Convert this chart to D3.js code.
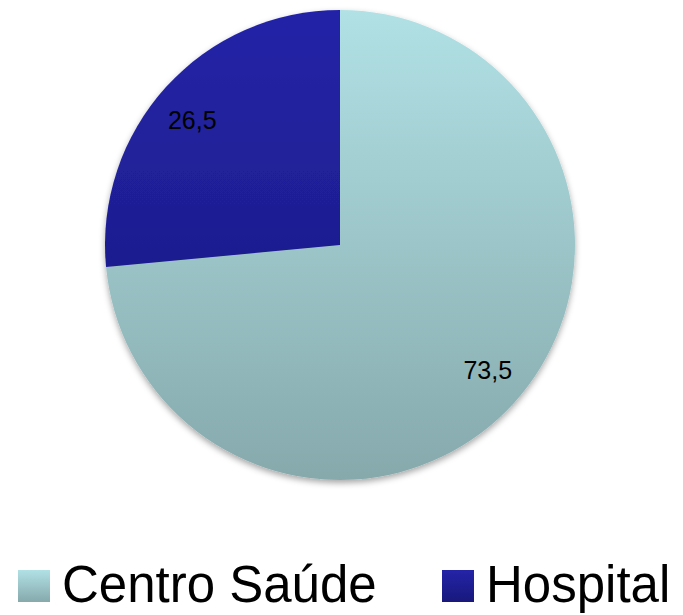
<!DOCTYPE html>
<html><head><meta charset="utf-8">
<script src="https://cdn.jsdelivr.net/npm/d3@7"></script>
<style>body{margin:0;background:#fff}svg{display:block}</style>
</head><body>
<script>
const categories = ["Centro Saúde", "Hospital"];
const values = [73.5, 26.5];
const labels = ["73,5", "26,5"];

const W = 683, H = 615;
const cx = 340, cy = 245, R = 235;
const svg = d3.select("body").append("svg").attr("width", W).attr("height", H);
const defs = svg.append("defs");
const grads = [["#b1e1e5", "#86a9ac"], ["#2424a8", "#18187c"]];
grads.forEach((g, i) => {
  const lg = defs.append("linearGradient").attr("id", "g" + i)
    .attr("gradientUnits", "userSpaceOnUse").attr("x1", 0).attr("y1", -R).attr("x2", 0).attr("y2", R);
  lg.append("stop").attr("offset", 0).attr("stop-color", g[0]);
  lg.append("stop").attr("offset", 1).attr("stop-color", g[1]);
  const lg2 = defs.append("linearGradient").attr("id", "l" + i).attr("x1", 0).attr("y1", 0).attr("x2", 0).attr("y2", 1);
  lg2.append("stop").attr("offset", 0).attr("stop-color", g[0]);
  lg2.append("stop").attr("offset", 1).attr("stop-color", g[1]);
});
const f = defs.append("filter").attr("id", "sh").attr("x", "-10%").attr("y", "-10%").attr("width", "120%").attr("height", "125%");
f.append("feDropShadow").attr("dx", 0).attr("dy", 3).attr("stdDeviation", 3).attr("flood-color", "#000").attr("flood-opacity", 0.35);

const pie = d3.pie().sort(null).value(d => d)(values);
const arc = d3.arc().innerRadius(0).outerRadius(R);
const unitArc = d3.arc().innerRadius(1).outerRadius(1);
const g = svg.append("g").attr("transform", `translate(${cx},${cy})`);
g.append("g").attr("filter", "url(#sh)").selectAll("path").data(pie).join("path")
  .attr("d", arc).attr("fill", (d, i) => `url(#g${i})`);

g.selectAll("text").data(pie).join("text")
  .attr("transform", d => { const c = unitArc.centroid(d); return `translate(${c[0] * R * 0.85},${c[1] * R * 0.79 + 9})`; })
  .attr("text-anchor", "middle").attr("font-family", "Liberation Sans, Arial, sans-serif")
  .attr("font-size", 25).attr("fill", "#000").text((d, i) => labels[i]);

// legend
const leg = svg.append("g");
const legX = [18, 442];
categories.forEach((c, i) => {
  leg.append("rect").attr("x", legX[i]).attr("y", 570).attr("width", 32).attr("height", 32).attr("fill", `url(#l${i})`);
  leg.append("text").attr("x", legX[i] + 44).attr("y", 602)
    .attr("font-family", "Liberation Sans, Arial, sans-serif").attr("font-size", 51).attr("fill", "#000").text(c);
});
</script>
</body></html>
